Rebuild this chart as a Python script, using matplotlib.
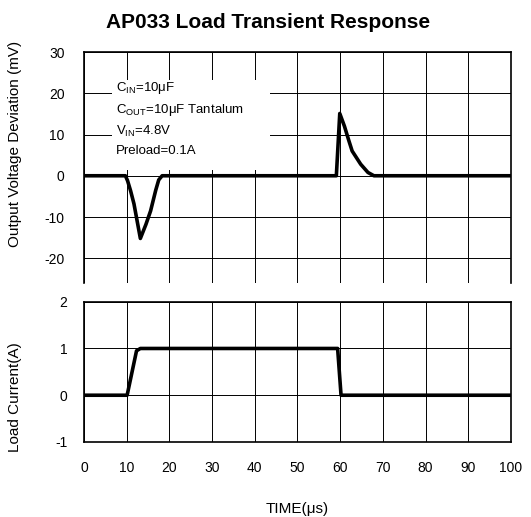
import matplotlib
matplotlib.use("Agg")
import matplotlib.pyplot as plt
from matplotlib.patches import Rectangle

plt.rcParams['font.family'] = ['Liberation Sans', 'DejaVu Sans']
plt.rcParams['mathtext.fontset'] = 'custom'
plt.rcParams['mathtext.rm'] = 'Liberation Sans'
plt.rcParams['axes.unicode_minus'] = False

# output voltage deviation (mV) vs time (us)
v_time = [0, 9.7, 10.2, 10.9, 11.7, 13.2, 14.5, 15.6, 16.8, 17.5, 18.3,
          59.1, 59.9, 61.0, 62.0, 62.8, 64.8, 66.5, 67.9, 100]
v_dev = [0, 0, -1.2, -3.6, -6.8, -15.2, -11.8, -8.5, -3.5, -1.0, 0,
         0, 15.1, 12.0, 8.6, 6.0, 2.8, 0.8, 0, 0]

# load current (A) vs time (us)
i_time = [0, 10.1, 12.3, 13.2, 59.4, 60.2, 100]
i_load = [0, 0, 0.95, 1.0, 1.0, 0, 0]

x_ticks = [0, 10, 20, 30, 40, 50, 60, 70, 80, 90, 100]
v_ticks = [-20, -10, 0, 10, 20, 30]
i_ticks = [-1, 0, 1, 2]

notes = [r'C$_{\mathrm{IN}}$=10μF',
         r'C$_{\mathrm{OUT}}$=10μF Tantalum',
         r'V$_{\mathrm{IN}}$=4.8V',
         'Preload=0.1A']

fig = plt.figure(figsize=(5.31, 5.17), dpi=100)
ax1 = fig.add_axes([0.1582, 0.4526, 0.8041, 0.4468])
ax2 = fig.add_axes([0.1582, 0.1451, 0.8041, 0.2713])

for ax in (ax1, ax2):
    ax.set_xlim(0, 100)
    ax.set_xticks(x_ticks)
    ax.grid(True, color='black', lw=0.7)
    ax.set_axisbelow(True)
    ax.tick_params(length=0, labelsize=10)
    for s in ax.spines.values():
        s.set_linewidth(1.2)

# top panel
ax1.plot(v_time, v_dev, color='black', lw=2.6, solid_joinstyle='round', zorder=3)
ax1.set_ylim(-26, 30)
ax1.set_yticks(v_ticks)
ax1.tick_params(axis='y', pad=14)
ax1.tick_params(axis='x', labelbottom=False)
ax1.spines['bottom'].set_visible(False)
ax1.set_ylabel('Output Voltage Deviation (mV)', fontsize=11)
ax1.yaxis.set_label_coords(-0.145, 0.60)
ax1.set_title('AP033 Load Transient Response', fontsize=15, fontweight='bold',
              x=0.43, pad=17)

ax1.add_patch(Rectangle((0.066, 0.489), 0.37, 0.39, transform=ax1.transAxes,
                        facecolor='white', edgecolor='none', zorder=1.5))
for s, yy in zip(notes, [0.844, 0.749, 0.658, 0.571]):
    ax1.text(0.075, yy, s, transform=ax1.transAxes, fontsize=9.5,
             va='center', ha='left', zorder=2.5)

# bottom panel
ax2.plot(i_time, i_load, color='black', lw=2.6, solid_joinstyle='round', zorder=3)
ax2.set_ylim(-1, 2)
ax2.set_yticks(i_ticks)
ax2.tick_params(axis='y', pad=12)
ax2.tick_params(axis='x', pad=14)
ax2.set_ylabel('Load Current(A)', fontsize=11)
ax2.yaxis.set_label_coords(-0.145, 0.32)
ax2.set_xlabel('TIME(μs)', fontsize=11, labelpad=19)

fig.savefig('out.png', dpi=100)
